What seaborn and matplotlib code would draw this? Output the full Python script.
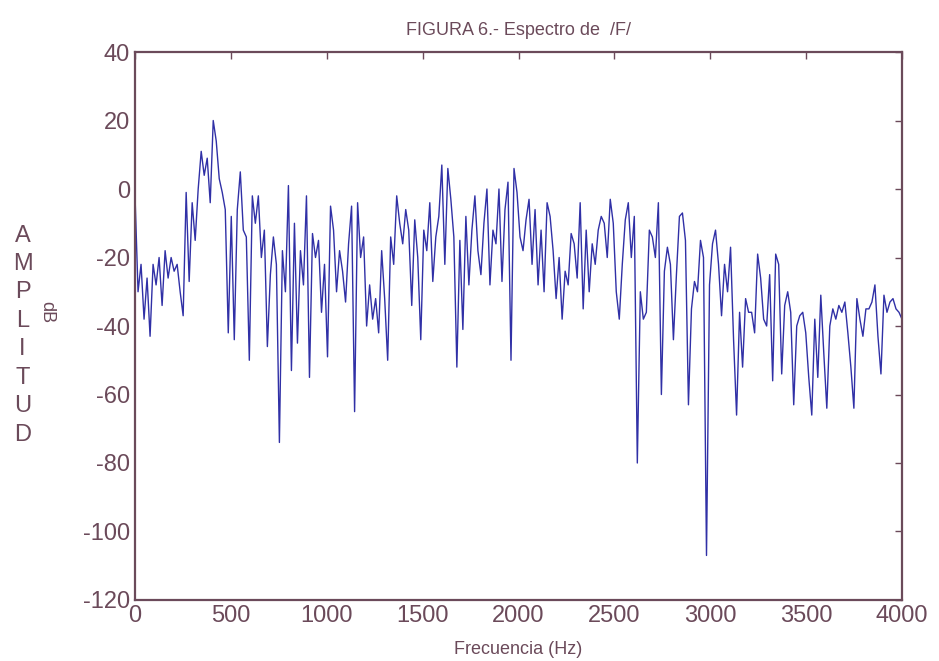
import numpy as np
import matplotlib
matplotlib.use("Agg")
import matplotlib.pyplot as plt
import seaborn as sns

# amplitude spectrum of /F/ (dB), 256 bins from 0 to 4000 Hz
amp_db = [
    -2, -30, -22, -38, -26, -43, -22, -28, -20, -34,
    -18, -26, -20, -24, -22, -30, -37, -1, -27, -4,
    -15, 0, 11, 4, 9, -4, 20, 14, 3, -1,
    -6, -42, -8, -44, -6, 5, -12, -14, -50, -2,
    -10, -2, -20, -12, -46, -25, -14, -22, -74, -18,
    -30, 1, -53, -10, -45, -18, -28, -2, -55, -13,
    -20, -15, -36, -22, -49, -5, -12, -30, -18, -24,
    -33, -16, -5, -65, -4, -20, -14, -40, -28, -38,
    -32, -42, -18, -32, -50, -14, -22, -2, -10, -16,
    -6, -12, -34, -9, -20, -44, -12, -18, -4, -27,
    -14, -8, 7, -22, 6, -3, -14, -52, -15, -41,
    -8, -28, -12, -2, -18, -25, -10, 0, -28, -12,
    -16, 0, -27, -6, 2, -50, 6, -1, -14, -18,
    -9, -3, -22, -6, -28, -12, -30, -4, -8, -18,
    -32, -20, -38, -24, -28, -13, -16, -26, -4, -35,
    -12, -30, -16, -22, -12, -8, -10, -20, -3, -10,
    -30, -38, -22, -9, -4, -20, -8, -80, -30, -38,
    -36, -12, -14, -20, -4, -60, -24, -17, -22, -44,
    -25, -8, -7, -15, -63, -35, -27, -30, -15, -20,
    -107, -28, -16, -12, -22, -37, -22, -30, -17, -44,
    -66, -36, -52, -32, -36, -36, -42, -19, -26, -38,
    -40, -25, -56, -19, -22, -54, -34, -30, -36, -63,
    -40, -37, -36, -42, -55, -66, -38, -55, -31, -48,
    -64, -40, -35, -38, -34, -36, -33, -42, -52, -64,
    -32, -38, -43, -35, -35, -33, -28, -43, -54, -31,
    -36, -33, -32, -35, -36, -38,
]
freq_hz = np.linspace(0, 4000, len(amp_db))

x_ticks = [0, 500, 1000, 1500, 2000, 2500, 3000, 3500, 4000]
y_ticks = [-120, -100, -80, -60, -40, -20, 0, 20, 40]

ink = "#6b4a5a"
line_color = "#3030a6"

sns.set_style("white")
plt.rcParams["font.family"] = ["Liberation Sans Narrow", "Liberation Sans", "DejaVu Sans"]
plt.rcParams["axes.unicode_minus"] = False

fig = plt.figure(figsize=(9.39, 6.61), dpi=100)
ax = fig.add_axes([0.1438, 0.0923, 0.8168, 0.829])

sns.lineplot(x=freq_hz, y=amp_db, ax=ax, color=line_color, linewidth=1.0)

ax.set_xlim(0, 4000)
ax.set_ylim(-120, 40)
ax.set_xticks(x_ticks)
ax.set_yticks(y_ticks)
ax.tick_params(direction="in", length=5, width=1, colors=ink, labelsize=17,
               top=True, right=True, labeltop=False, labelright=False)
for s in ax.spines.values():
    s.set_color(ink)
    s.set_linewidth(1.6)

ax.set_title("FIGURA 6.- Espectro de  /F/", fontsize=13, color=ink, pad=12)
ax.set_xlabel("Frecuencia (Hz)", fontsize=13, color=ink, labelpad=10)
ax.set_ylabel("")

# stacked vertical axis label, MATLAB style
fig.text(0.024, 0.493, "A\nM\nP\nL\nI\nT\nU\nD", fontsize=17, color=ink,
         ha="center", va="center", linespacing=1.38)
fig.text(0.05, 0.528, "dB", fontsize=13, color=ink, rotation=270,
         ha="center", va="center")

fig.savefig("out.png", dpi=100)
